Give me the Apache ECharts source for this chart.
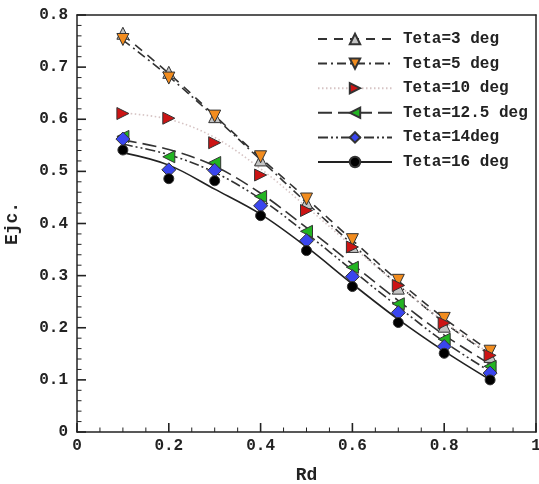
<!DOCTYPE html>
<html>
<head>
<meta charset="utf-8">
<script src="https://cdn.jsdelivr.net/npm/echarts@6/dist/echarts.min.js"></script>
<style>
html,body{margin:0;padding:0;background:#fff;}
#chart{width:539px;height:484px;}
</style>
</head>
<body>
<div id="chart"></div>
<script>
// ---- data ----
var rd = [0.1, 0.2, 0.3, 0.4, 0.5, 0.6, 0.7, 0.8, 0.9];
var names = ['Teta=3 deg', 'Teta=5 deg', 'Teta=10 deg', 'Teta=12.5 deg', 'Teta=14deg', 'Teta=16 deg'];
// measured points (markers)
var teta3   = [0.765, 0.690, 0.605, 0.522, 0.440, 0.356, 0.276, 0.203, 0.145];
var teta5   = [0.753, 0.679, 0.606, 0.528, 0.447, 0.369, 0.291, 0.218, 0.155];
var teta10  = [0.611, 0.602, 0.555, 0.493, 0.425, 0.355, 0.281, 0.209, 0.147];
var teta125 = [0.567, 0.528, 0.517, 0.452, 0.385, 0.316, 0.246, 0.178, 0.126];
var teta14  = [0.562, 0.503, 0.502, 0.434, 0.367, 0.298, 0.229, 0.164, 0.113];
var teta16  = [0.541, 0.486, 0.482, 0.415, 0.348, 0.279, 0.210, 0.151, 0.100];
// fitted curves (lines)
var fit3   = [0.762, 0.688, 0.607, 0.526, 0.448, 0.368, 0.290, 0.218, 0.155];
var fit5   = [0.752, 0.682, 0.604, 0.522, 0.440, 0.360, 0.282, 0.210, 0.148];
var fit10  = [0.612, 0.600, 0.565, 0.505, 0.432, 0.356, 0.282, 0.212, 0.150];
var fit125 = [0.560, 0.542, 0.510, 0.458, 0.392, 0.322, 0.252, 0.186, 0.130];
var fit14  = [0.552, 0.532, 0.498, 0.447, 0.381, 0.310, 0.240, 0.173, 0.116];
var fit16  = [0.536, 0.512, 0.466, 0.418, 0.355, 0.284, 0.216, 0.155, 0.100];
// axis ticks
var xTicks = [0, 0.2, 0.4, 0.6, 0.8, 1];
var yTicks = [0, 0.1, 0.2, 0.3, 0.4, 0.5, 0.6, 0.7, 0.8];
var xMinorPerMajor = 4;
var yMinorPerMajor = 5;

var points = [teta3, teta5, teta10, teta125, teta14, teta16];
var fits = [fit3, fit5, fit10, fit125, fit14, fit16];

var styles = [
  {symbol: 'triangle', rotate: 0,   size: 12, fill: '#c4c4c4', line: '#333', type: [9, 7], width: 1.6},
  {symbol: 'triangle', rotate: 180, size: 12, fill: '#f28c1e', line: '#333', type: [9, 4, 2, 4], width: 1.6},
  {symbol: 'triangle', rotate: -90, size: 12, fill: '#cc1414', line: '#d6c4c4', type: [1.5, 2.5], width: 1.6},
  {symbol: 'triangle', rotate: 90,  size: 12, fill: '#22b422', line: '#333', type: [14, 6], width: 1.6},
  {symbol: 'diamond',  rotate: 0,   size: 14, fill: '#3a46ee', line: '#333', type: [10, 3, 2, 3, 2, 3], width: 1.6},
  {symbol: 'circle',   rotate: 0,   size: 10, fill: '#000000', line: '#222', type: 'solid', width: 1.6}
];

function pairs(xs, ys) {
  return xs.map(function (x, i) { return [x, ys[i]]; });
}

// tick mark items: [value, axis (0 = x, 1 = y), length]
function tickItems(ticks, minorPer, axisFlag) {
  var out = [];
  for (var i = 0; i < ticks.length; i++) {
    out.push([ticks[i], axisFlag, 9]);
    if (i < ticks.length - 1) {
      var step = (ticks[i + 1] - ticks[i]) / minorPer;
      for (var k = 1; k < minorPer; k++) {
        out.push([ticks[i] + step * k, axisFlag, 4.5]);
      }
    }
  }
  return out;
}
var tickData = tickItems(xTicks, xMinorPerMajor, 0).concat(tickItems(yTicks, yMinorPerMajor, 1));

var series = [];
names.forEach(function (n, i) {
  var s = styles[i];
  series.push({
    name: n,
    type: 'line',
    data: pairs(rd, fits[i]),
    smooth: 0.35,
    showSymbol: false,
    symbol: s.symbol,
    symbolRotate: s.rotate,
    symbolSize: s.size,
    itemStyle: {color: s.fill, borderColor: '#333', borderWidth: 1},
    lineStyle: {color: s.line, type: s.type, width: s.width},
    z: 2,
    silent: true
  });
});
names.forEach(function (n, i) {
  var s = styles[i];
  series.push({
    name: n,
    type: 'scatter',
    data: pairs(rd, points[i]),
    symbol: s.symbol,
    symbolRotate: s.rotate,
    symbolSize: s.size,
    itemStyle: {color: s.fill, borderColor: '#333', borderWidth: 1, opacity: 1},
    z: 3 + i,
    silent: true
  });
});
// inward tick marks along the bottom and left axes
series.push({
  type: 'custom',
  name: 'ticks',
  silent: true,
  clip: false,
  z: 20,
  data: tickData,
  renderItem: function (params, api) {
    var v = api.value(0), flag = api.value(1), len = api.value(2);
    var p, x2, y2;
    if (flag === 0) {
      p = api.coord([v, yTicks[0]]);
      x2 = p[0]; y2 = p[1] - len;
    } else {
      p = api.coord([xTicks[0], v]);
      x2 = p[0] + len; y2 = p[1];
    }
    return {
      type: 'line',
      shape: {x1: p[0], y1: p[1], x2: x2, y2: y2},
      style: {stroke: '#222', lineWidth: len > 5 ? 1.6 : 1}
    };
  }
});

var font = 'Liberation Mono, Courier New, monospace';
var axisColor = '#222';
var chart = echarts.init(document.getElementById('chart'));
chart.setOption({
  animation: false,
  grid: {left: 77, right: 3, top: 15, bottom: 52, outerBoundsMode: 'none'},
  legend: {
    data: names,
    orient: 'vertical',
    left: 312,
    top: 26,
    itemWidth: 74,
    itemHeight: 13,
    itemGap: 8.6,
    textStyle: {fontFamily: font, fontWeight: 'bold', fontSize: 16, color: '#222', padding: [0, 0, 0, 6]},
    selectedMode: false
  },
  xAxis: [{
    type: 'value', position: 'bottom',
    min: xTicks[0], max: xTicks[xTicks.length - 1], interval: 0.2,
    name: 'Rd', nameLocation: 'middle', nameGap: 34,
    nameTextStyle: {fontFamily: font, fontWeight: 'bold', fontSize: 18, color: '#222'},
    axisLine: {show: true, onZero: false, lineStyle: {color: axisColor, width: 1.5}},
    axisTick: {show: false},
    splitLine: {show: false},
    axisLabel: {show: true, fontFamily: font, fontWeight: 'bold', fontSize: 16, color: '#222', margin: 6}
  }, {
    type: 'value', position: 'top',
    min: xTicks[0], max: xTicks[xTicks.length - 1], interval: 0.2,
    axisLine: {show: true, onZero: false, lineStyle: {color: axisColor, width: 1.5}},
    axisTick: {show: false}, axisLabel: {show: false}, splitLine: {show: false}
  }],
  yAxis: [{
    type: 'value', position: 'left',
    min: yTicks[0], max: yTicks[yTicks.length - 1], interval: 0.1,
    name: 'Ejc.', nameLocation: 'middle', nameGap: 56, nameRotate: 90,
    nameTextStyle: {fontFamily: font, fontWeight: 'bold', fontSize: 18, color: '#222'},
    axisLine: {show: true, onZero: false, lineStyle: {color: axisColor, width: 1.5}},
    axisTick: {show: false},
    splitLine: {show: false},
    axisLabel: {show: true, fontFamily: font, fontWeight: 'bold', fontSize: 16, color: '#222', margin: 9}
  }, {
    type: 'value', position: 'right',
    min: yTicks[0], max: yTicks[yTicks.length - 1], interval: 0.1,
    axisLine: {show: true, onZero: false, lineStyle: {color: axisColor, width: 1.5}},
    axisTick: {show: false}, axisLabel: {show: false}, splitLine: {show: false}
  }],
  series: series
});
</script>
</body>
</html>
